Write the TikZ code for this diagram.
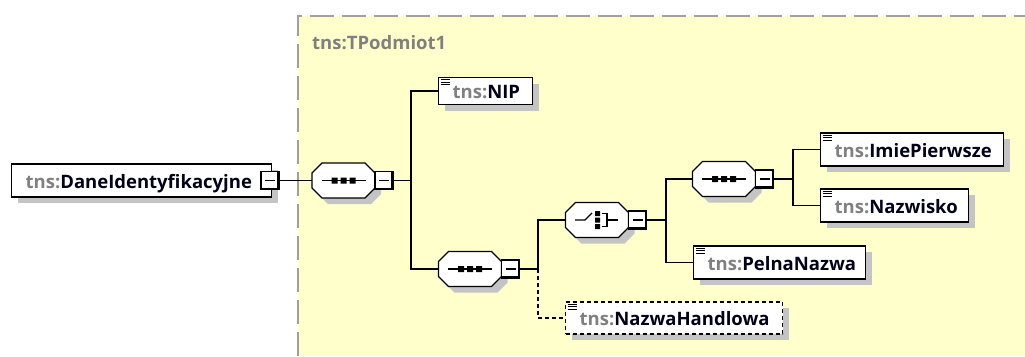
\documentclass[tikz,border=0pt]{standalone}
\usepackage{fontspec}
\setmainfont{Open Sans}
\usetikzlibrary{shadows}
\definecolor{areafill}{RGB}{255,255,204}
\definecolor{areaborder}{RGB}{160,160,160}
\definecolor{shadowgray}{RGB}{196,196,196}
\definecolor{pfxgray}{RGB}{128,128,128}
\definecolor{namecol}{RGB}{0,0,24}
\newcommand\elfont{\fontsize{18.5bp}{22bp}\selectfont\bfseries}
\newcommand\eltext[2]{\makebox[#1bp][l]{\hspace{14bp}\textcolor{pfxgray}{tns:}\textcolor{namecol}{#2}}}
\tikzset{
  conn/.style={line width=1.3bp, draw=black},
  optconn/.style={conn, dash pattern=on 4bp off 3bp},
  elem/.style={draw=black, line width=1.3bp, fill=white, minimum height=33bp,
    inner sep=0pt, anchor=west, font=\elfont, text height=18bp, text depth=3bp,
    general shadow={fill=shadowgray, shadow xshift=6bp, shadow yshift=-6bp}},
  optelem/.style={elem, dash pattern=on 4bp off 3bp},
  minusbox/.style={draw=black, line width=1.3bp, fill=white, minimum size=18bp,
    inner sep=0pt,
    path picture={
      \draw[line width=1.2bp] ([xshift=4bp]path picture bounding box.west) -- ([xshift=-4bp]path picture bounding box.east);
      \draw[line width=3.2bp] (path picture bounding box.north east) -- (path picture bounding box.south east) -- (path picture bounding box.south west);
    }},
  oct/.style={minimum width=63bp, minimum height=35bp, inner sep=0pt, draw=none},
  iconline/.style={line width=1bp, draw=black},
  octo/.pic={
    \fill[shadowgray] (-15.5,-11.5) -- (27.5,-11.5) -- (37.5,-1.5) -- (37.5,13.5) -- (27.5,23.5) -- (-15.5,23.5) -- (-25.5,13.5) -- (-25.5,-1.5) -- cycle;
    \draw[line width=1.3bp, fill=white] (-21.5,-17.5) -- (21.5,-17.5) -- (31.5,-7.5) -- (31.5,7.5) -- (21.5,17.5) -- (-21.5,17.5) -- (-31.5,7.5) -- (-31.5,-7.5) -- cycle;
    \node[oct] (-oct) at (0,0) {};
    \node[minusbox] (-minus) at (40.5,0) {};
    \ifnum#1=1
      \draw[line width=1.3bp] (-22,0) -- (22,0);
      \fill (-12,-3) rectangle (-6,3) (-3,-3) rectangle (3,3) (6,-3) rectangle (12,3);
    \else
      \draw[line width=1.3bp] (-22,0) -- (-12,0) -- (-5,-7);
      \fill (-2,-9) rectangle (3,-4) (-2,-2.5) rectangle (3,2.5) (-2,4) rectangle (3,9);
      \draw[line width=1.3bp] (5,-6.5) -- (10,-6.5) -- (10,6.5) -- (5,6.5) (10,0) -- (21,0);
    \fi
  }
}
\newcommand\elicon[1]{\foreach \d in {3,5.5,8} \draw[iconline] ([shift={(2.5,\d)}]#1.north west) -- ++(9,0);}
\begin{document}
\begin{tikzpicture}[x=1bp,y=-1bp]
\useasboundingbox (0,0) rectangle (1025,356);
% complex type area
\fill[areafill] (298,16) rectangle (1025,356);
\draw[areaborder, line width=2bp, dash pattern=on 24bp off 8bp] (298,356) -- (298,16) -- (1025,16);
\node[anchor=base west, font=\elfont, text=pfxgray, inner sep=0pt] (ttl) at (312,49) {tns:TPodmiot1};

% elements
\node[elem] (dane) at (11,180.5) {\eltext{260}{DaneIdentyfikacyjne}};
\node[minusbox] (dm) at (270,180.5) {};

\pic (s1) at (343.5,180.5) {octo=1};
\node[elem, minimum height=27bp] (nip) at (438,91) {\eltext{94}{NIP}};
\elicon{nip}
\pic (s2) at (470,269) {octo=1};
\pic (ch) at (597,220) {octo=2};
\node[optelem, minimum height=32bp] (nh) at (565,318) {\eltext{217}{NazwaHandlowa}};
\elicon{nh}
\pic (s3) at (724,179) {octo=1};
\node[elem] (pn) at (693,262.5) {\eltext{172}{PelnaNazwa}};
\elicon{pn}
\node[elem] (imie) at (820,149.5) {\eltext{183}{ImiePierwsze}};
\elicon{imie}
\node[elem] (naz) at (820,205.5) {\eltext{148}{Nazwisko}};
\elicon{naz}

% connectors
\coordinate (j1) at (411,180.5);
\coordinate (j2) at (538,269);
\coordinate (j3) at (666,220);
\coordinate (j4) at (793,179);
\draw[conn] (dm.east) -- (s1-oct.west);
\draw[conn] (s1-minus.east) -- (j1);
\draw[conn] (nip.west) -| (j1) |- (s2-oct.west);
\draw[conn] (s2-minus.east) -- (j2) |- (ch-oct.west);
\draw[optconn] (j2) |- (nh.west);
\draw[conn] (ch-minus.east) -- (j3);
\draw[conn] (s3-oct.west) -| (j3) |- (pn.west);
\draw[conn] (s3-minus.east) -- (j4);
\draw[conn] (imie.west) -| (j4) |- (naz.west);
\end{tikzpicture}
\end{document}
